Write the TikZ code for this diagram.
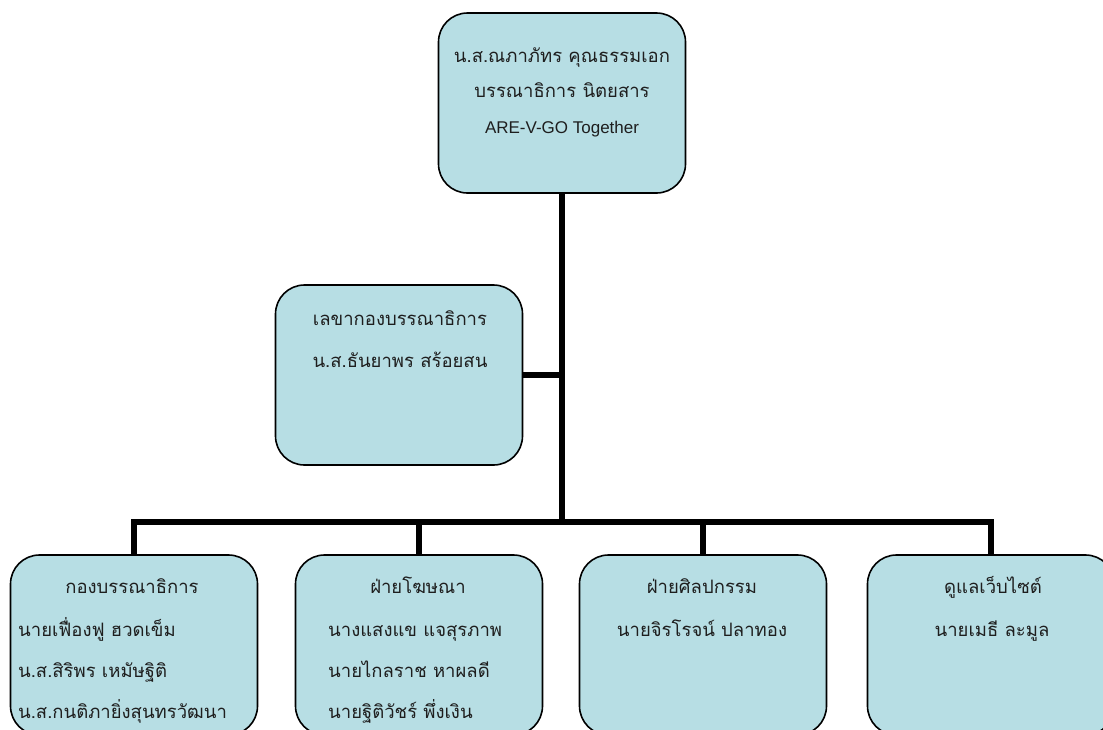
\documentclass[tikz,border=0pt]{standalone}
\usepackage{fontspec}
\newfontfamily\thaifont[Script=Thai]{Loma}
\newfontfamily\latinfont{Liberation Sans}
\definecolor{boxfill}{RGB}{183,222,228}
\definecolor{inkgray}{RGB}{30,30,30}
\tikzset{
  orgbox/.style={draw=black, line width=1.6pt, fill=boxfill, rounded corners=29pt,
    minimum width=247pt, minimum height=180pt, inner sep=0pt},
  link/.style={line width=5.5pt},
  thai/.style={font=\thaifont\fontsize{18.5}{22}\selectfont, text=inkgray, anchor=base, inner sep=0pt},
  thaileft/.style={thai, anchor=base west},
  latin/.style={font=\latinfont\fontsize{17}{20}\selectfont, text=inkgray, anchor=base, inner sep=0pt},
}

\begin{document}
\begin{tikzpicture}[x=1pt,y=-1pt]
    \useasboundingbox (0,0) rectangle (1103,729);
    \clip (0,0) rectangle (1103,729);

    % boxes
    \node[orgbox] (chief) at (562,103) {};
    \node[orgbox] (secr) at (399,375) {};
    \node[orgbox] (edit) at (134,645) {};
    \node[orgbox] (ads) at (419,645) {};
    \node[orgbox] (art) at (703,645) {};
    \node[orgbox] (web) at (991,645) {};

    % connectors
    \coordinate (hub) at (562,522);
    \draw[link] (chief.south) -- (hub);
    \draw[link] (secr.east) -- (secr.east -| hub);
    \draw[link] (edit.north) |- (hub) -| (web.north);
    \draw[link] (ads.north) -- (ads.north |- hub);
    \draw[link] (art.north) -- (art.north |- hub);

    % texts
    \node[thai] (chiefA) at (562,62) {น.ส.ณภาภัทร คุณธรรมเอก};
    \node[thai] (chiefB) at (562,97) {บรรณาธิการ นิตยสาร};
    \node[latin] (chiefC) at (562,133) {ARE-V-GO Together};

    \node[thai] (secrA) at (400,325) {เลขากองบรรณาธิการ};
    \node[thai] (secrB) at (400,367) {น.ส.ธันยาพร สร้อยสน};

    \node[thai] (editA) at (132,593) {กองบรรณาธิการ};
    \node[thaileft] (editB) at (18,636) {นายเฟื่องฟู ฮวดเข็ม};
    \node[thaileft] (editC) at (18,677) {น.ส.สิริพร เหมัษฐิติ};
    \node[thaileft] (editD) at (18,718) {น.ส.กนติภายิ่งสุนทรวัฒนา};

    \node[thai] (adsA) at (418,593) {ฝ่ายโฆษณา};
    \node[thaileft] (adsB) at (328,636) {นางแสงแข แจสุรภาพ};
    \node[thaileft] (adsC) at (328,677) {นายไกลราช หาผลดี};
    \node[thaileft] (adsD) at (328,718) {นายฐิติวัชร์ พึ่งเงิน};

    \node[thai] (artA) at (702,593) {ฝ่ายศิลปกรรม};
    \node[thai] (artB) at (702,636) {นายจิรโรจน์ ปลาทอง};

    \node[thai] (webA) at (993,593) {ดูแลเว็บไซต์};
    \node[thai] (webB) at (992,636) {นายเมธี ละมูล};
\end{tikzpicture}
\end{document}
